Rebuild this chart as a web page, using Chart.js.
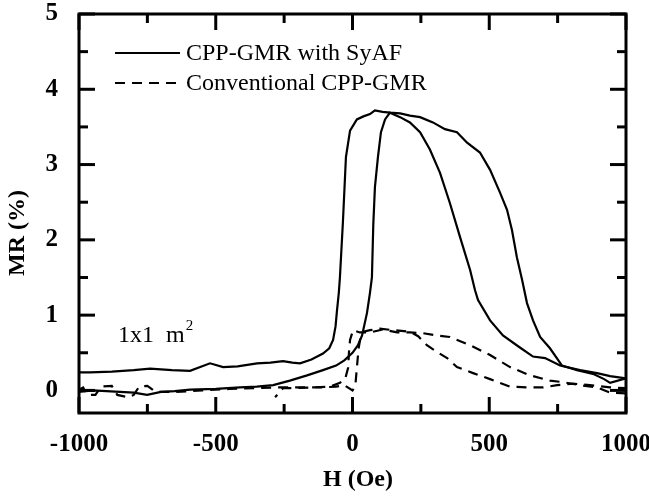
<!DOCTYPE html>
<html>
<head>
<meta charset="utf-8">
<script src="https://cdn.jsdelivr.net/npm/chart.js@4/dist/chart.umd.min.js"></script>
<style>
html,body{margin:0;padding:0;background:#fff;}
canvas{display:block;}
</style>
</head>
<body>
<canvas id="c" width="649" height="497"></canvas>
<script>
// ---- Data ----
// CPP-GMR with SyAF, branch 1 (outer loop)
const syafOuterH  = [-1000,-960,-880,-800,-740,-660,-594,-521,-473,-420,-349,-300,-254,-220,-192,-150,-108,-85,-71,-62,-57,-50,-46,-35,-24,-9,16,40,64,82,110,137,174,210,247,294,338,382,419,466,503,539,565,583,601,620,638,660,686,722,766,821,879,920,942,1000];
const syafOuterMR = [0.24,0.24,0.25,0.27,0.29,0.27,0.26,0.36,0.31,0.32,0.36,0.37,0.39,0.37,0.36,0.41,0.49,0.56,0.67,0.85,1.05,1.3,1.5,2.24,3.1,3.45,3.6,3.64,3.67,3.72,3.7,3.69,3.68,3.65,3.63,3.56,3.47,3.43,3.29,3.16,2.93,2.63,2.4,2.13,1.77,1.47,1.16,0.93,0.71,0.56,0.33,0.27,0.22,0.15,0.1,0.16];
// CPP-GMR with SyAF, branch 2 (inner loop)
const syafInnerH  = [-1000,-950,-900,-850,-800,-751,-700,-650,-594,-500,-411,-350,-290,-229,-166,-108,-60,-30,0,20,35,53,64,71,76,82,93,104,119,137,174,210,247,283,320,356,393,430,448,459,503,550,612,660,704,759,832,894,942,1000];
const syafInnerMR = [-0.02,0.0,-0.01,-0.02,-0.03,-0.06,-0.02,-0.01,0.01,0.02,0.04,0.05,0.07,0.13,0.2,0.27,0.33,0.4,0.5,0.6,0.73,1.03,1.3,1.5,2.2,2.7,3.1,3.43,3.6,3.69,3.63,3.56,3.43,3.2,2.89,2.49,2.04,1.6,1.33,1.2,0.93,0.73,0.57,0.45,0.43,0.33,0.27,0.23,0.19,0.16];
// Conventional CPP-GMR, branch A
const convAH  = [1000,942,894,832,770,722,649,576,503,430,356,309,258,210,163,112,64,27,2,-9,-13,-16,-27,-46,-82,-150,-220,-254,-283];
const convAMR = [-0.04,-0.03,0.04,0.07,0.11,0.13,0.2,0.31,0.47,0.6,0.71,0.73,0.76,0.77,0.77,0.81,0.77,0.77,0.8,0.67,0.5,0.3,0.15,0.1,0.05,0.04,0.03,0.03,-0.09];
// Conventional CPP-GMR, branch B
const convBH  = [-1000,-985,-970,-940,-920,-880,-860,-820,-800,-780,-750,-720,-650,-550,-450,-350,-283,-200,-119,-60,-30,-13,0,10,16,22,30,40,64,100,150,210,240,272,309,346,382,441,503,576,638,697,748,806,868,942,1000];
const convBMR = [0.01,0.04,-0.06,-0.06,0.05,0.06,-0.06,-0.09,-0.06,0.05,0.06,-0.02,-0.02,0.0,0.02,0.03,0.04,0.04,0.04,0.05,0.07,0.03,0.0,0.05,0.3,0.55,0.72,0.78,0.8,0.82,0.8,0.78,0.72,0.6,0.51,0.43,0.31,0.23,0.15,0.05,0.04,0.04,0.07,0.09,0.07,0.04,0.03];

const seriesNames = ['CPP-GMR with SyAF','Conventional CPP-GMR'];
const xTickValues = [-1000,-500,0,500,1000];
const xMinorValues = [-750,-250,250,750];
const yTickValues = [0,1,2,3,4,5];
const yMinorValues = [0.5,1.5,2.5,3.5,4.5];
const xTitle = 'H (Oe)';
const yTitle = 'MR (%)';
const noteText = '1x1  m';

const pts = (hs, ms) => hs.map((h, i) => ({x: h, y: ms[i]}));
const DASH = [10, 7];
const FONT = '"Liberation Serif", "Times New Roman", serif';

const framePlugin = {
  id: 'frame',
  afterDraw(chart) {
    const {ctx, chartArea: a, scales: {x, y}} = chart;
    ctx.save();
    ctx.strokeStyle = '#000';
    ctx.lineWidth = 3;
    ctx.strokeRect(a.left, a.top, a.right - a.left, a.bottom - a.top);
    const seg = (x1, y1, x2, y2) => { ctx.beginPath(); ctx.moveTo(x1, y1); ctx.lineTo(x2, y2); ctx.stroke(); };
    xTickValues.forEach(v => { const p = x.getPixelForValue(v); seg(p, a.bottom, p, a.bottom - 16); seg(p, a.top, p, a.top + 16); });
    xMinorValues.forEach(v => { const p = x.getPixelForValue(v); seg(p, a.bottom, p, a.bottom - 9); seg(p, a.top, p, a.top + 9); });
    yTickValues.forEach(v => { const p = y.getPixelForValue(v); seg(a.left, p, a.left + 16, p); seg(a.right, p, a.right - 16, p); });
    yMinorValues.forEach(v => { const p = y.getPixelForValue(v); seg(a.left, p, a.left + 9, p); seg(a.right, p, a.right - 9, p); });

    // legend
    ctx.lineWidth = 2.2;
    seg(115, 53, 180, 53);
    ctx.setLineDash(DASH);
    seg(115, 83, 180, 83);
    ctx.setLineDash([]);
    ctx.fillStyle = '#000';
    ctx.font = '24px ' + FONT;
    ctx.textBaseline = 'middle';
    ctx.textAlign = 'left';
    ctx.fillText(seriesNames[0], 186, 54);
    ctx.fillText(seriesNames[1], 186, 84);

    // annotation
    ctx.textBaseline = 'alphabetic';
    ctx.fillText(noteText, 118, 342);
    const w = ctx.measureText(noteText).width;
    ctx.font = '15px ' + FONT;
    ctx.fillText('2', 118 + w + 1, 330);

    // axis titles
    ctx.font = 'bold 24px ' + FONT;
    ctx.textAlign = 'center';
    ctx.textBaseline = 'middle';
    ctx.fillText(xTitle, 358, 480);
    ctx.translate(18, 233);
    ctx.rotate(-Math.PI / 2);
    ctx.fillText(yTitle, 0, 0);
    ctx.restore();
  }
};

const tickFont = {family: FONT, size: 25, weight: 'bold'};

new Chart(document.getElementById('c'), {
  type: 'line',
  data: {
    datasets: [
      {label: seriesNames[0], data: pts(syafOuterH, syafOuterMR), borderColor: '#000', borderWidth: 2.2, pointRadius: 0, tension: 0, fill: false},
      {label: seriesNames[0], data: pts(syafInnerH, syafInnerMR), borderColor: '#000', borderWidth: 2.2, pointRadius: 0, tension: 0, fill: false},
      {label: seriesNames[1], data: pts(convAH, convAMR), borderColor: '#000', borderWidth: 2.2, borderDash: DASH, pointRadius: 0, tension: 0, fill: false},
      {label: seriesNames[1], data: pts(convBH, convBMR), borderColor: '#000', borderWidth: 2.2, borderDash: DASH, pointRadius: 0, tension: 0, fill: false}
    ]
  },
  options: {
    responsive: false,
    animation: false,
    parsing: false,
    layout: {padding: {top: 14, right: 23, left: 0, bottom: 0}},
    plugins: {legend: {display: false}, tooltip: {enabled: false}},
    scales: {
      x: {
        type: 'linear', min: -1000, max: 1000,
        afterBuildTicks: s => { s.ticks = xTickValues.map(v => ({value: v})); },
        grid: {display: false, drawTicks: false},
        border: {display: false},
        ticks: {font: tickFont, color: '#000', padding: 17, maxRotation: 0, autoSkip: false, callback: v => String(v)},
        afterFit: s => { s.height = 84; s.paddingLeft = 0; s.paddingRight = 0; }
      },
      y: {
        type: 'linear', min: -0.3, max: 5,
        afterBuildTicks: s => { s.ticks = yTickValues.map(v => ({value: v})); },
        grid: {display: false, drawTicks: false},
        border: {display: false},
        ticks: {font: tickFont, color: '#000', padding: 21, autoSkip: false, callback: v => String(v)},
        afterFit: s => { s.width = 79; s.paddingTop = 0; s.paddingBottom = 0; }
      }
    }
  },
  plugins: [framePlugin]
});
</script>
</body>
</html>
